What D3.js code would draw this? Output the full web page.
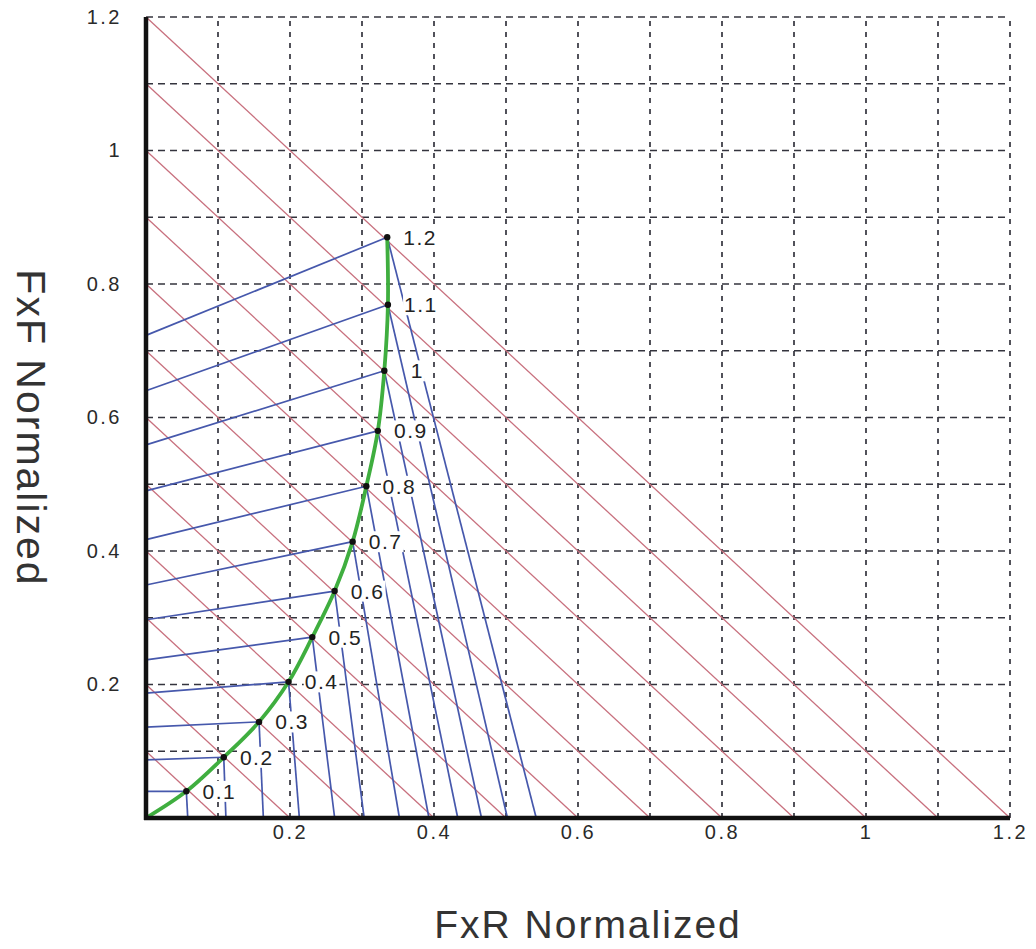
<!DOCTYPE html>
<html>
<head>
<meta charset="utf-8">
<script src="https://cdn.jsdelivr.net/npm/d3@7"></script>
<style>
  body { margin: 0; background: #fff; }
  #chart { width: 1036px; height: 949px; }
  text { font-family: "Liberation Sans", Arial, sans-serif; }
</style>
</head>
<body>
<div id="chart"></div>
<script>
// friction levels and their labels
const muValues = [0.1, 0.2, 0.3, 0.4, 0.5, 0.6, 0.7, 0.8, 0.9, 1.0, 1.1, 1.2];
const muLabels = ["0.1", "0.2", "0.3", "0.4", "0.5", "0.6", "0.7", "0.8", "0.9", "1", "1.1", "1.2"];

// ideal distribution points (green curve)
const idealFxR = [0.056, 0.108, 0.157, 0.198, 0.231, 0.262, 0.287, 0.306, 0.322, 0.331, 0.336, 0.335];
const idealFxF = [0.040, 0.091, 0.144, 0.204, 0.271, 0.340, 0.414, 0.497, 0.580, 0.670, 0.769, 0.870];

// front lock lines end on the FxF axis here
const frontLockFxF0 = [0.040, 0.087, 0.136, 0.187, 0.237, 0.297, 0.349, 0.417, 0.490, 0.559, 0.640, 0.723];
// rear lock lines end on the FxR axis here
const rearLockFxR0 = [0.058, 0.111, 0.163, 0.213, 0.262, 0.303, 0.352, 0.393, 0.433, 0.466, 0.502, 0.542];

// constant deceleration lines FxR + FxF = level
const decelLevels = [0.1, 0.2, 0.3, 0.4, 0.5, 0.6, 0.7, 0.8, 0.9, 1.0, 1.1, 1.2];

const gridValues = [0.1, 0.2, 0.3, 0.4, 0.5, 0.6, 0.7, 0.8, 0.9, 1.0, 1.1, 1.2];
const tickValues = [0.2, 0.4, 0.6, 0.8, 1.0, 1.2];

class BrakeChart {
  constructor(el) {
    this.el = el;
    this.points = muValues.map((m, i) => ({
      mu: m,
      label: muLabels[i],
      r: idealFxR[i],
      f: idealFxF[i],
      f0: frontLockFxF0[i],
      r0: rearLockFxR0[i],
    }));
    this.initChart();
  }

  initChart() {
    const that = this;
    that.margin = { left: 146, right: 26, top: 17, bottom: 131 };
    const width = 1036;
    const height = 949;
    const innerWidth = width - that.margin.left - that.margin.right;
    const innerHeight = height - that.margin.top - that.margin.bottom;

    const svg = d3
      .select(`#${this.el}`)
      .append("svg")
      .attr("width", width)
      .attr("height", height);

    const mainGroup = svg
      .append("g")
      .attr("transform", `translate(${that.margin.left},${that.margin.top})`);

    const x = d3.scaleLinear().domain([0, 1.2]).range([0, innerWidth]);
    const y = d3.scaleLinear().domain([0, 1.2]).range([innerHeight, 0]);

    // dashed grid
    mainGroup
      .selectAll(".vgrid")
      .data(gridValues)
      .join("line")
      .attr("x1", (d) => x(d))
      .attr("x2", (d) => x(d))
      .attr("y1", y(0))
      .attr("y2", y(1.2))
      .attr("stroke", "#34343e")
      .attr("stroke-width", 1.7)
      .attr("stroke-dasharray", "5,6");

    mainGroup
      .selectAll(".hgrid")
      .data(gridValues)
      .join("line")
      .attr("x1", x(0))
      .attr("x2", x(1.2))
      .attr("y1", (d) => y(d))
      .attr("y2", (d) => y(d))
      .attr("stroke", "#34343e")
      .attr("stroke-width", 1.7)
      .attr("stroke-dasharray", "7,5");

    // deceleration lines
    mainGroup
      .selectAll(".decel")
      .data(decelLevels)
      .join("line")
      .attr("x1", x(0))
      .attr("y1", (d) => y(d))
      .attr("x2", (d) => x(d))
      .attr("y2", y(0))
      .attr("stroke", "#c8707e")
      .attr("stroke-width", 1.3);

    // front lock lines (to the FxF axis)
    mainGroup
      .selectAll(".front")
      .data(that.points)
      .join("line")
      .attr("x1", x(0))
      .attr("y1", (d) => y(d.f0))
      .attr("x2", (d) => x(d.r))
      .attr("y2", (d) => y(d.f))
      .attr("stroke", "#4658ac")
      .attr("stroke-width", 1.7);

    // rear lock lines (to the FxR axis)
    mainGroup
      .selectAll(".rear")
      .data(that.points)
      .join("line")
      .attr("x1", (d) => x(d.r))
      .attr("y1", (d) => y(d.f))
      .attr("x2", (d) => x(d.r0))
      .attr("y2", y(0))
      .attr("stroke", "#4658ac")
      .attr("stroke-width", 1.7);

    // ideal curve
    const line = d3
      .line()
      .curve(d3.curveCatmullRom.alpha(0.5))
      .x((d) => x(d.r))
      .y((d) => y(d.f));

    mainGroup
      .append("path")
      .attr("d", line([{ r: 0, f: 0 }, ...that.points]))
      .attr("fill", "none")
      .attr("stroke", "#3fae3f")
      .attr("stroke-width", 3.8);

    // axes
    const xAxis = d3
      .axisBottom(x)
      .tickValues(tickValues)
      .tickSize(0)
      .tickPadding(7)
      .tickFormat((d) => String(+d.toFixed(1)));
    const yAxis = d3
      .axisLeft(y)
      .tickValues(tickValues)
      .tickSize(0)
      .tickPadding(24)
      .tickFormat((d) => String(+d.toFixed(1)));

    const gx = mainGroup
      .append("g")
      .attr("transform", `translate(0,${innerHeight})`)
      .call(xAxis);
    const gy = mainGroup.append("g").call(yAxis);

    [gx, gy].forEach((g) => {
      g.select(".domain").remove();
      g.selectAll("text")
        .attr("font-size", 20)
        .attr("letter-spacing", "2.5px")
        .attr("fill", "#2a2a2a")
        .attr("font-family", '"Liberation Sans", Arial, sans-serif');
    });

    mainGroup
      .append("line")
      .attr("x1", x(0))
      .attr("x2", x(0))
      .attr("y1", y(1.2))
      .attr("y2", y(0) + 2)
      .attr("stroke", "#111")
      .attr("stroke-width", 4.5);
    mainGroup
      .append("line")
      .attr("x1", x(0) - 2)
      .attr("x2", x(1.2))
      .attr("y1", y(0))
      .attr("y2", y(0))
      .attr("stroke", "#111")
      .attr("stroke-width", 4.5);

    // points and labels
    mainGroup
      .selectAll(".dot")
      .data(that.points)
      .join("circle")
      .attr("cx", (d) => x(d.r))
      .attr("cy", (d) => y(d.f))
      .attr("r", 3.2)
      .attr("fill", "#111");

    const labelG = mainGroup
      .selectAll(".lab")
      .data(that.points)
      .join("g")
      .attr("transform", (d) => `translate(${x(d.r) + 33},${y(d.f)})`);

    const labelText = labelG
      .append("text")
      .text((d) => d.label)
      .attr("text-anchor", "middle")
      .attr("dy", "0.36em")
      .attr("font-size", 21)
      .attr("letter-spacing", "1.5px")
      .attr("fill", "#222");

    labelText.each(function () {
      const b = this.getBBox();
      d3.select(this.parentNode)
        .insert("rect", "text")
        .attr("x", b.x - 1)
        .attr("y", b.y + 1)
        .attr("width", b.width + 2)
        .attr("height", b.height - 2)
        .attr("fill", "#fff");
    });

    // axis titles
    svg
      .append("text")
      .text("FxR Normalized")
      .attr("x", 588)
      .attr("y", 938)
      .attr("text-anchor", "middle")
      .attr("font-size", 39)
      .attr("letter-spacing", "2px")
      .attr("fill", "#333");

    svg
      .append("text")
      .text("FxF Normalized")
      .attr("transform", "translate(31,428) rotate(90)")
      .attr("text-anchor", "middle")
      .attr("dominant-baseline", "central")
      .attr("font-size", 41)
      .attr("letter-spacing", "2px")
      .attr("fill", "#333");
  }
}

new BrakeChart("chart");
</script>
</body>
</html>
